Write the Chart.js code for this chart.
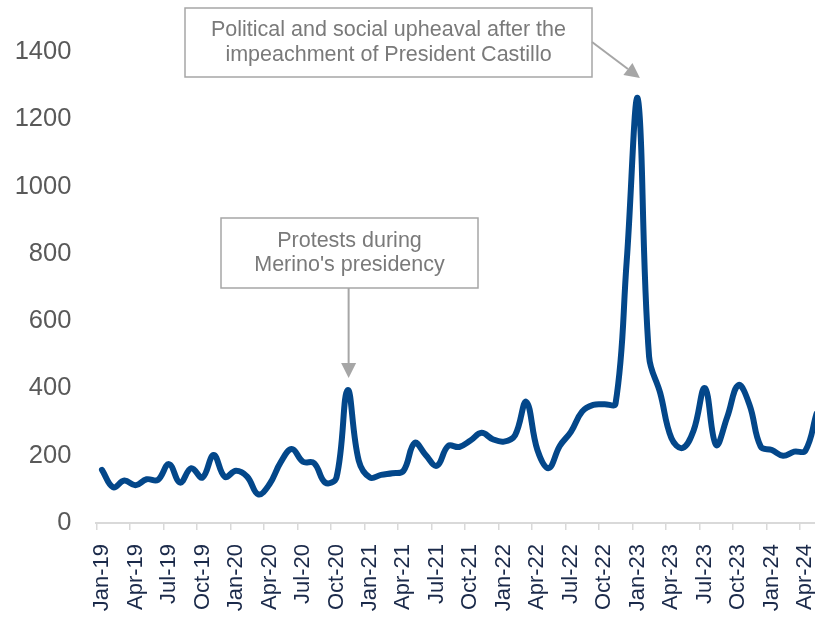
<!DOCTYPE html>
<html>
<head>
<meta charset="utf-8">
<script src="https://cdn.jsdelivr.net/npm/chart.js@4.4.1/dist/chart.umd.min.js"></script>
<style>
  html, body { margin: 0; padding: 0; background: #fff; overflow: hidden; }
  #wrap { width: 857px; height: 622px; }
</style>
</head>
<body>
<div id="wrap"><canvas id="chart" width="857" height="622"></canvas></div>
<script>
// monthly categories, Jan-19 .. May-24
const months = [
  "Jan-19","Feb-19","Mar-19","Apr-19","May-19","Jun-19","Jul-19","Aug-19","Sep-19","Oct-19","Nov-19","Dec-19",
  "Jan-20","Feb-20","Mar-20","Apr-20","May-20","Jun-20","Jul-20","Aug-20","Sep-20","Oct-20","Nov-20","Dec-20",
  "Jan-21","Feb-21","Mar-21","Apr-21","May-21","Jun-21","Jul-21","Aug-21","Sep-21","Oct-21","Nov-21","Dec-21",
  "Jan-22","Feb-22","Mar-22","Apr-22","May-22","Jun-22","Jul-22","Aug-22","Sep-22","Oct-22","Nov-22","Dec-22",
  "Jan-23","Feb-23","Mar-23","Apr-23","May-23","Jun-23","Jul-23","Aug-23","Sep-23","Oct-23","Nov-23","Dec-23",
  "Jan-24","Feb-24","Mar-24","Apr-24","May-24"
];

const values = [
  158, 106, 126, 112, 130, 128, 175, 120, 163, 135, 202, 137,
  155, 138, 85, 115, 180, 220, 182, 178, 120, 135, 395, 185,
  135, 143, 148, 155, 238, 202, 170, 229, 226, 245, 268, 249,
  242, 261, 360, 217, 163, 229, 271, 331, 351, 353, 355, 780,
  1260, 495, 386, 252, 223, 276, 401, 232, 315, 410, 351, 227,
  217, 200, 212, 215, 325
];

const yTicks = [0, 200, 400, 600, 800, 1000, 1200, 1400];

// callouts: text lines, the month they point at
const notes = [
  { lines: ["Political and social upheaval after the", "impeachment of President Castillo"], month: "Jan-23" },
  { lines: ["Protests during", "Merino's presidency"], month: "Nov-20" }
];

const FONT = "'Liberation Sans', Arial, sans-serif";
const GREY = "#a6a6a6";

function arrow(ctx, x1, y1, x2, y2) {
  const ang = Math.atan2(y2 - y1, x2 - x1);
  const head = 15, half = 7.5;
  const bx = x2 - head * Math.cos(ang), by = y2 - head * Math.sin(ang);
  ctx.strokeStyle = GREY;
  ctx.fillStyle = GREY;
  ctx.lineWidth = 2;
  ctx.beginPath();
  ctx.moveTo(x1, y1);
  ctx.lineTo(bx, by);
  ctx.stroke();
  ctx.beginPath();
  ctx.moveTo(x2, y2);
  ctx.lineTo(bx + half * Math.sin(ang), by - half * Math.cos(ang));
  ctx.lineTo(bx - half * Math.sin(ang), by + half * Math.cos(ang));
  ctx.closePath();
  ctx.fill();
}

function box(ctx, x, y, w, h, lines) {
  ctx.fillStyle = "#fff";
  ctx.fillRect(x, y, w, h);
  ctx.strokeStyle = GREY;
  ctx.lineWidth = 1.5;
  ctx.strokeRect(x, y, w, h);
  ctx.fillStyle = "#7a7a7a";
  ctx.font = "21.5px " + FONT;
  ctx.textAlign = "center";
  ctx.textBaseline = "middle";
  lines.forEach((t, i) => ctx.fillText(t, x + w / 2, y + h / 2 + (i - (lines.length - 1) / 2) * 24.5));
}

const callouts = {
  id: "callouts",
  afterDatasetsDraw(chart) {
    const { ctx, scales: { x, y } } = chart;
    ctx.save();
    // Castillo
    const a = notes[0];
    const ax = x.getPixelForValue(months.indexOf(a.month));
    const ay = y.getPixelForValue(values[months.indexOf(a.month)]);
    box(ctx, 185, 8, 407, 69, a.lines);
    arrow(ctx, 592, 42, ax + 2, ay - 21);
    // Merino
    const b = notes[1];
    const bx = x.getPixelForValue(months.indexOf(b.month));
    const by = y.getPixelForValue(values[months.indexOf(b.month)]);
    box(ctx, 221, 218, 257, 70, b.lines);
    arrow(ctx, bx + 1, 288, bx + 1, by - 12);
    ctx.restore();
  }
};

new Chart(document.getElementById("chart"), {
  type: "line",
  data: {
    labels: months,
    datasets: [{
      data: values,
      borderColor: "#03478a",
      borderWidth: 6,
      pointRadius: 0,
      tension: 0.4,
      fill: false,
      borderCapStyle: "round",
      borderJoinStyle: "round"
    }]
  },
  options: {
    responsive: false,
    animation: false,
    devicePixelRatio: 1,
    layout: { padding: { top: 52, right: 7.5, left: 0, bottom: 0 } },
    plugins: { legend: { display: false }, tooltip: { enabled: false } },
    scales: {
      x: {
        type: "category",
        offset: true,
        afterFit(s) { s.height = 99; },
        grid: {
          offset: true,
          drawOnChartArea: false,
          drawTicks: true,
          tickLength: 7,
          lineWidth: 1.5,
          color: (c) => (c.index % 3 === 0 ? "#d9d9d9" : "rgba(0,0,0,0)")
        },
        border: { color: "#d9d9d9", width: 2 },
        ticks: {
          autoSkip: false,
          minRotation: 90,
          maxRotation: 90,
          padding: 14,
          color: "#1b2a4a",
          font: { family: FONT, size: 22 },
          callback: (v, i) => (i % 3 === 0 ? months[i] : "")
        }
      },
      y: {
        min: 0,
        max: 1400,
        afterFit(s) { s.width = 96.4; },
        afterBuildTicks(s) { s.ticks = yTicks.map(v => ({ value: v })); },
        grid: { display: false },
        border: { display: false },
        ticks: {
          padding: 17,
          color: "#595959",
          font: { family: FONT, size: 25.5 },
          callback: (v) => String(v)
        }
      }
    }
  },
  plugins: [callouts]
});
</script>
</body>
</html>
